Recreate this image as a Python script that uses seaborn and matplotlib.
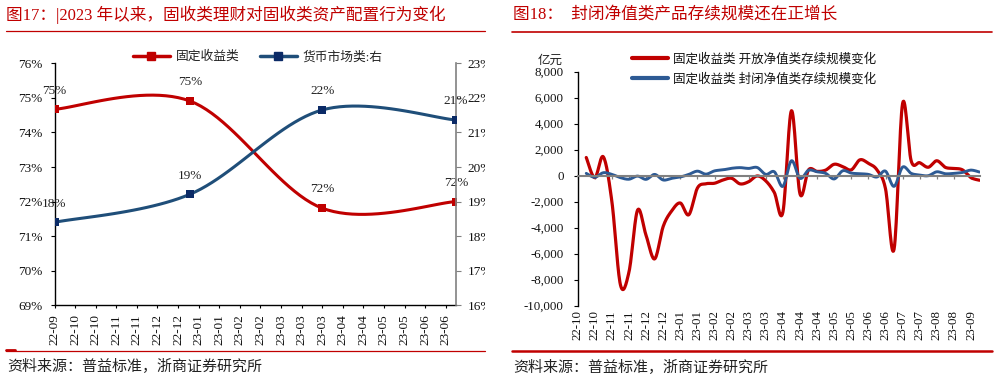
import numpy as np
import pandas as pd
import matplotlib
matplotlib.use("Agg")
import matplotlib.pyplot as plt
import matplotlib.dates as mdates
from matplotlib.lines import Line2D
from matplotlib.transforms import Bbox, TransformedBbox
import seaborn as sns

# ---------------- data ----------------
# Left chart (图17): quarterly allocation shares
left_dates = ["2022-09-30", "2022-12-31", "2023-03-31", "2023-06-30"]
fixed_income_share = [74.67, 74.91, 71.81, 72.00]      # 固定收益类 (left axis, %)
money_market_share = [18.40, 19.21, 21.65, 21.36]      # 货币市场类 (right axis, %)
fixed_income_labels = ["75%", "75%", "72%", "72%"]
money_market_labels = ["18%", "19%", "22%", "21%"]
left_tick_start = "2022-09-30"
left_tick_labels = ["22-09", "22-10", "22-10", "22-11", "22-11", "22-12", "22-12",
                    "23-01", "23-01", "23-02", "23-02", "23-03", "23-03", "23-03",
                    "23-04", "23-04", "23-05", "23-05", "23-06", "23-06"]
fixed_yticks = [69, 70, 71, 72, 73, 74, 75, 76]
money_yticks = [16, 17, 18, 19, 20, 21, 22, 23]

# Right chart (图18): weekly change in outstanding scale (亿元)
right_first_week = "2022-10-22"
open_nav_change = [1400, -150, 1450, -2000, -8400, -7400, -2650, -4600, -6400, -3900,
                   -2700, -2100, -3000, -950, -620, -580, -330, -200, -630, -460,
                   -20, -400, -1300, -2800, 5000, -1400, 450, 330, 430, 880,
                   700, 450, 1220, 950, 450, -1000, -5660, 5560, 1150, 1000,
                   650, 1150, 640, 560, 450, -150, -350]
closed_nav_change = [180, -120, 230, 100, -150, -270, -30, -280, 100, -330,
                     -200, -100, 100, 350, 120, 370, 450, 570, 620, 560,
                     630, 100, 300, -820, 1150, -200, 420, 300, 180, -250,
                     380, 200, 150, 100, -100, 350, -820, 660, 180, 50,
                     0, 300, 150, 180, 250, 430, 280]
right_tick_start = "2022-10-15"
right_tick_labels = ["22-10", "22-10", "22-11", "22-11", "22-12", "22-12", "23-01", "23-01",
                     "23-02", "23-02", "23-03", "23-03", "23-04", "23-04", "23-04", "23-05",
                     "23-05", "23-06", "23-06", "23-07", "23-07", "23-08", "23-08", "23-09"]
scale_yticks = list(range(-10000, 8001, 2000))

legend_left = ["固定收益类", "货币市场类:右"]
legend_right = ["固定收益类 开放净值类存续规模变化", "固定收益类 封闭净值类存续规模变化"]
title_left = "图17：|2023 年以来，固收类理财对固收类资产配置行为变化"
title_right = "图18：  封闭净值类产品存续规模还在正增长"
source_text = "资料来源：普益标准，浙商证券研究所"

# ---------------- style ----------------
sns.set_theme(style="white")
plt.rcParams["font.family"] = ["Liberation Serif", "Noto Sans CJK SC", "DejaVu Sans"]
plt.rcParams["axes.unicode_minus"] = False

RED = "#C00000"
BLUE_L = "#1F4E79"
BLUE_MK = "#0B2A66"
BLUE_R = "#2D5A94"
GRAY = "#808080"

W, H = 1000, 383
fig = plt.figure(figsize=(10, 3.83), dpi=100)
fig.patch.set_facecolor("white")


def fy(py):
    return 1 - py / H


def smooth(x, y, n=24):
    """Catmull-Rom style smoothing of a polyline (for drawing only)."""
    x = np.asarray(x, float)
    y = np.asarray(y, float)
    xp = np.concatenate([[x[0]], x, [x[-1]]])
    yp = np.concatenate([[y[0]], y, [y[-1]]])
    t = np.linspace(0, 1, n, endpoint=False)
    h00 = 2 * t**3 - 3 * t**2 + 1
    h10 = t**3 - 2 * t**2 + t
    h01 = -2 * t**3 + 3 * t**2
    h11 = t**3 - t**2
    ox, oy = [], []
    for i in range(len(x) - 1):
        p1x, p2x = xp[i + 1], xp[i + 2]
        p1y, p2y = yp[i + 1], yp[i + 2]
        m1x, m2x = (xp[i + 2] - xp[i]) / 2, (xp[i + 3] - xp[i + 1]) / 2
        m1y, m2y = (yp[i + 2] - yp[i]) / 2, (yp[i + 3] - yp[i + 1]) / 2
        ox.append(h00 * p1x + h10 * m1x + h01 * p2x + h11 * m2x)
        oy.append(h00 * p1y + h10 * m1y + h01 * p2y + h11 * m2y)
    ox.append([x[-1]])
    oy.append([y[-1]])
    return np.concatenate(ox), np.concatenate(oy)


# ================= LEFT PANEL =================
axL = fig.add_axes([54.5 / W, fy(305.3), (456 - 54.5) / W, (305.3 - 63.3) / H])
axL2 = axL.twinx()

xl = mdates.date2num(pd.to_datetime(left_dates))
sxr, syr = smooth(xl, fixed_income_share)
sxb, syb = smooth(xl, money_market_share)

sns.lineplot(x=sxr, y=syr, ax=axL, color=RED, linewidth=2.2, sort=False,
             estimator=None, legend=False)
sns.scatterplot(x=xl, y=fixed_income_share, ax=axL, marker="s", s=30, color=RED,
                edgecolor=RED, linewidth=0, zorder=5, legend=False)
sns.lineplot(x=sxb, y=syb, ax=axL2, color=BLUE_L, linewidth=2.2, sort=False,
             estimator=None, legend=False)
sns.scatterplot(x=xl, y=money_market_share, ax=axL2, marker="s", s=30, color=BLUE_MK,
                edgecolor=BLUE_MK, linewidth=0, zorder=5, legend=False)

for xv, yv, lab in zip(xl, fixed_income_share, fixed_income_labels):
    axL.annotate(lab, (xv, yv), xytext=(0, 13.5), textcoords="offset points",
                 ha="center", va="center", fontsize=9.5, color="#222222")
for xv, yv, lab in zip(xl, money_market_share, money_market_labels):
    axL2.annotate(lab, (xv, yv), xytext=(0, 13.5), textcoords="offset points",
                  ha="center", va="center", fontsize=9.5, color="#222222")

ltick = mdates.date2num(pd.date_range(left_tick_start, periods=len(left_tick_labels), freq="14D"))
axL.set_xlim(xl[0], xl[-1])
axL.set_xticks(ltick)
axL.set_xticklabels(left_tick_labels, rotation=90, fontsize=9.5)
axL.set_ylim(69, 76)
axL.set_yticks(fixed_yticks)
axL.set_yticklabels([f"{v}%" for v in fixed_yticks], fontsize=9.5)
axL2.set_ylim(16, 23)
axL2.set_yticks(money_yticks)
axL2.set_yticklabels([f"{v}%" for v in money_yticks], fontsize=9.5)
for a in (axL, axL2):
    a.set_xlabel("")
    a.set_ylabel("")
    a.grid(False)
    a.set_facecolor("none")

axL.tick_params(axis="x", direction="out", length=2.5, width=0.8, color="black", pad=4,
                bottom=True, labelcolor="#111111")
axL.tick_params(axis="y", direction="out", length=3, width=0.8, color="black", pad=5.5,
                left=True, labelcolor="#111111")
axL2.tick_params(axis="y", direction="out", length=3.5, width=0.8, color=GRAY, pad=5,
                 right=True, labelcolor="#111111")
for s in ("top", "right"):
    axL.spines[s].set_visible(False)
for s in ("left", "bottom"):
    axL.spines[s].set_color("black")
    axL.spines[s].set_linewidth(1.0)
for s in ("top", "left", "bottom"):
    axL2.spines[s].set_visible(False)
axL2.spines["right"].set_color(GRAY)
axL2.spines["right"].set_linewidth(1.2)

legL = fig.legend(
    handles=[Line2D([], [], color=RED, lw=2.5, marker="s", markersize=5.5),
             Line2D([], [], color=BLUE_L, lw=2.5, marker="s", markersize=5.5,
                    markerfacecolor=BLUE_MK, markeredgecolor=BLUE_MK)],
    labels=legend_left, loc="center", bbox_to_anchor=(257.5 / W, fy(57)), ncol=2,
    frameon=False, fontsize=9.2, handlelength=2.9, handletextpad=0.45,
    columnspacing=1.6, borderpad=0, borderaxespad=0)
for t in legL.get_texts():
    t.set_color("#222222")

# ================= RIGHT PANEL =================
axR = fig.add_axes([577.7 / W, fy(305.7), (980 - 577.7) / W, (305.7 - 71.7) / H])
axR.spines["bottom"].set_position(("data", 0))
xr = mdates.date2num(pd.date_range(right_first_week, periods=len(open_nav_change), freq="7D"))
s1x, s1y = smooth(xr, open_nav_change, n=16)
s2x, s2y = smooth(xr, closed_nav_change, n=16)
sns.lineplot(x=s1x, y=s1y, ax=axR, color=RED, linewidth=2.3, sort=False,
             estimator=None, legend=False)
sns.lineplot(x=s2x, y=s2y, ax=axR, color=BLUE_R, linewidth=2.1, sort=False,
             estimator=None, legend=False)
axR.set_xlabel("")
axR.set_ylabel("")
axR.grid(False)

rtick = mdates.date2num(pd.date_range(right_tick_start, periods=len(right_tick_labels), freq="14D"))
x_end = mdates.date2num(pd.Timestamp(right_tick_start)) + (980 - 577.7) / 17.1 * 14
axR.set_xlim(rtick[0], x_end)
axR.set_ylim(-10000, 8000)
axR.set_yticks(scale_yticks)
axR.set_yticklabels([f"{v:,}" for v in scale_yticks], fontsize=9.3)
axR.set_xticks(rtick)
axR.set_xticklabels(right_tick_labels, rotation=90, fontsize=9.3)

axR.spines["bottom"].set_color(GRAY)
axR.spines["bottom"].set_linewidth(1.5)
axR.spines["left"].set_color("black")
axR.spines["left"].set_linewidth(1.0)
for s in ("top", "right"):
    axR.spines[s].set_visible(False)

ax_h_px = 305.7 - 71.7
zero_px_above_bottom = ax_h_px * (0 - (-10000)) / 18000
ticklen = 2.5
pad_pts = (zero_px_above_bottom + 4.5) * 72 / 100 - ticklen
axR.tick_params(axis="x", direction="out", length=ticklen, width=0.9, color=GRAY,
                pad=pad_pts, bottom=True, labelcolor="#111111", labelrotation=90)
axR.tick_params(axis="y", direction="out", length=3, width=0.8, color="black",
                pad=7, left=True, labelcolor="#111111")

fig.text(563 / W, fy(61), "亿元", ha="right", va="center", fontsize=9, color="#222222")

legR = fig.legend(
    handles=[Line2D([], [], color=RED, lw=3), Line2D([], [], color=BLUE_R, lw=3)],
    labels=legend_right, loc="upper left", bbox_to_anchor=(631.7 / W, fy(53)),
    frameon=False, fontsize=9, handlelength=2.93, handletextpad=0.4,
    labelspacing=0.62, borderpad=0, borderaxespad=0)
for t in legR.get_texts():
    t.set_color("#111111")

# ================= titles, rules, sources =================
fig.text(6 / W, fy(15), title_left, color=RED, fontsize=12, va="center", ha="left")
fig.text(513 / W, fy(15), title_right, color=RED, fontsize=12, va="center", ha="left")

fig.add_artist(Line2D([6 / W, 485 / W], [fy(31), fy(31)], color=RED, lw=0.9))
fig.add_artist(Line2D([512 / W, 992 / W], [fy(31.5), fy(31.5)], color=RED, lw=1.2))
fig.add_artist(Line2D([6 / W, 485 / W], [fy(351), fy(351)], color=RED, lw=0.9))
fig.add_artist(Line2D([6 / W, 15 / W], [fy(350), fy(350)], color=RED, lw=2.0))
fig.add_artist(Line2D([512 / W, 992 / W], [fy(351), fy(351)], color=RED, lw=1.8))

fig.text(7 / W, fy(367), source_text, fontsize=10.8, va="center", ha="left", color="#222222")
fig.text(513 / W, fy(368), source_text, fontsize=10.8, va="center", ha="left", color="#222222")

# clip the right-axis labels of the left panel at the panel edge (as in the reference)
fig.canvas.draw()
clip = TransformedBbox(Bbox([[0, 0], [485 / W, 1]]), fig.transFigure)
for lbl in axL2.get_yticklabels():
    lbl.set_clip_box(clip)
    lbl.set_clip_on(True)

fig.savefig("out.png", dpi=100, facecolor="white")
